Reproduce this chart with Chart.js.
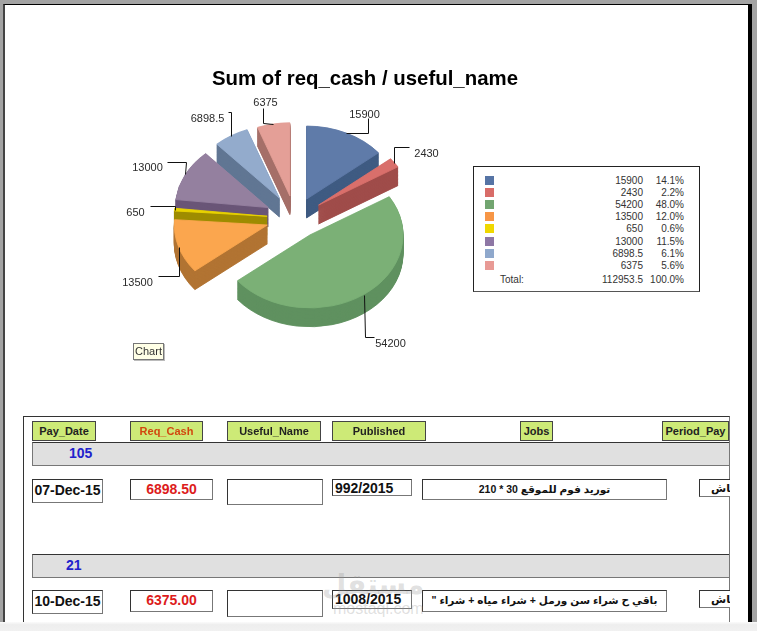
<!DOCTYPE html>
<html>
<head>
<meta charset="utf-8">
<title>Sum of req_cash / useful_name</title>
<script src="https://cdn.jsdelivr.net/npm/chart.js@4"></script>
<style>
  html, body { margin: 0; padding: 0; }
  body { width: 757px; height: 631px; overflow: hidden; position: relative; background: #a3a3a3; font-family: "Liberation Sans", "DejaVu Sans", sans-serif; }
  .abs { position: absolute; box-sizing: border-box; }
  #page { left: 3px; top: 4px; width: 749px; height: 618px; background: #fff; border-top: 1px solid #000; border-left: 2px solid #444; border-right: 4px solid #000; }
  #band { left: 0; top: 622px; width: 757px; height: 9px; background: linear-gradient(#fbfbfb, #eeeeee 30%, #f1f1f1); }
  #pie { position: absolute; left: 0; top: 0; }
  #tag { left: 133px; top: 343px; width: 31px; height: 17px; background: #ffffe6; border: 1px solid #777; box-shadow: 1px 1px 0 #bbb; font-size: 11px; line-height: 15px; text-align: center; color: #333; }
  #legend { left: 473px; top: 166px; width: 227px; height: 126px; border: 1px solid #222; border-bottom-color: #555; background: #fff; font-size: 10px; color: #333; }
  .swatch { position: absolute; left: 11px; width: 9px; height: 9px; }
  .lval { position: absolute; right: 56px; text-align: right; line-height: 12px; }
  .lpct { position: absolute; right: 15px; text-align: right; line-height: 12px; }
  #outer { left: 23px; top: 416px; width: 707px; height: 206px; border: 1px solid #333; border-right-color: #777; border-bottom: none; overflow: hidden; }
  .head { background: #cdea77; border: 1px solid #444; font-weight: bold; font-size: 11px; line-height: 19px; text-align: center; color: #222; white-space: nowrap; overflow: hidden; }
  .bar { background: #e0e0e0; border: 1px solid #777; border-top-color: #333; font-weight: bold; font-size: 14px; color: #2222cc; line-height: 20px; }
  .cell { background: #fff; border: 1px solid #333; border-right-color: #777; border-bottom-color: #777; font-weight: bold; font-size: 14px; line-height: 19px; color: #111; white-space: nowrap; overflow: hidden; text-align: center; }
  .mark { color: rgba(150,150,150,.3); white-space: nowrap; pointer-events: none; }
</style>
</head>
<body>
<div id="page" class="abs"></div>
<canvas id="pie" width="730" height="400"></canvas>
<div id="tag" class="abs">Chart</div>
<div id="legend" class="abs"></div>
<div id="report"></div>
<div class="abs mark" style="left:322px;top:568px;font-size:28px;font-weight:bold;">مستقل</div>
<div class="abs mark" style="left:333px;top:600px;font-size:16px;">mostaql.com</div>
<div id="band" class="abs"></div>

<script>
/* chart values, top to bottom as in the legend */
const sliceValues = [15900, 2430, 54200, 13500, 650, 13000, 6898.5, 6375];
const slicePercents = ['14.1%', '2.2%', '48.0%', '12.0%', '0.6%', '11.5%', '6.1%', '5.6%'];
const sliceColors = ['#5f7ba9', '#d96f6b', '#7bb076', '#fba64e', '#e8d200', '#94809f', '#93abcc', '#e49f97'];
const wallColors = ['#3f5b82', '#a04c4a', '#5f9160', '#b27433', '#9e8c00', '#6a5577', '#617693', '#a56f68'];
const legendSwatches = ['#5674a5', '#d86c68', '#72a570', '#f79646', '#f0d800', '#8e77a5', '#8fa8cc', '#e89a95'];
const totalLabel = 'Total:';
const totalValue = '112953.5';
const totalPercent = '100.0%';
const chartTitle = 'Sum of req_cash / useful_name';

/* report underneath the chart */
const reportColumns = ['Pay_Date', 'Req_Cash', 'Useful_Name', 'Published', 'Jobs', 'Period_Pay'];
const reportGroups = ['105', '21'];
const payDates = ['07-Dec-15', '10-Dec-15'];
const reqCash = ['6898.50', '6375.00'];
const published = ['992/2015', '1008/2015'];
const jobs = ['توريد فوم للموقع 30 * 210', 'باقي ح شراء سن ورمل + شراء مياه + شراء "'];
const periodPay = ['كاش', 'كاش'];

const squash = 0.785;       // pie is a flattened circle
const wallDepth = 24;       // before squash, about 19px on screen
const drawOrder = [7, 6, 5, 4, 3, 0, 1, 2];   // back slices first
const explode = [27, 29, 26, 29, 28, 30, 30, 29];   // how far each slice is pulled out

// leader line bends and label spot, relative to the slice rim point
const leaders = [
  { bends: [[22, 0], [22, -15]], text: [18, -19] },
  { bends: [[0, -16], [15, -16]], text: [32, -10] },
  { bends: [[1, 42], [10, 42]], text: [26, 48] },
  { bends: [[0, 29], [-21, 29]], text: [-42, 35] },
  { bends: [[0, -4], [-25, -4]], text: [-40, 2] },
  { bends: [[1, -12], [-18, -12]], text: [-38, -7] },
  { bends: [[0, -24], [-3, -24]], text: [-24, -18] },
  { bends: [[-10, -1], [-10, -16]], text: [-8, -22] }
];

/* ---------- pie plugin: flatten, extrude, leader lines ---------- */
const pie3d = {
  id: 'pie3d',
  afterLayout(chart) {
    // title stays centred on the canvas, the pie sits left of the legend
    chart.chartArea.right -= 140;
    chart.chartArea.width -= 140;
  },
  beforeDatasetDraw(chart, args) {
    const ctx = chart.ctx;
    const arcs = args.meta.data;
    const cy = arcs[0].y;
    ctx.save();
    ctx.translate(0, cy);
    ctx.scale(1, squash);
    ctx.translate(0, -cy);
    drawOrder.forEach(i => {
      const arc = arcs[i];
      const opts = arc.options;
      const mid = (arc.startAngle + arc.endAngle) / 2;
      ctx.save();
      ctx.translate(Math.cos(mid) * explode[i], Math.sin(mid) * explode[i]);
      arc.options = Object.assign({}, opts, { backgroundColor: wallColors[i], borderColor: wallColors[i] });
      for (let d = wallDepth; d > 0; d--) {
        ctx.save();
        ctx.translate(0, d);
        arc.draw(ctx);
        ctx.restore();
      }
      arc.options = opts;
      arc.draw(ctx);
      ctx.restore();
    });
    ctx.restore();
    return false;
  },
  afterDatasetsDraw(chart) {
    const ctx = chart.ctx;
    ctx.save();
    ctx.strokeStyle = '#111';
    ctx.lineWidth = 1;
    ctx.fillStyle = '#2a2a2a';
    ctx.font = '11px "Liberation Sans", sans-serif';
    ctx.textAlign = 'center';
    ctx.textBaseline = 'middle';
    chart.getDatasetMeta(0).data.forEach((arc, i) => {
      const mid = (arc.startAngle + arc.endAngle) / 2;
      const reach = arc.outerRadius + explode[i];
      const ax = Math.round(arc.x + Math.cos(mid) * reach) + 0.5;
      const ay = Math.round(arc.y + Math.sin(mid) * reach * squash) + 0.5;
      ctx.beginPath();
      ctx.moveTo(ax, ay);
      leaders[i].bends.forEach(b => ctx.lineTo(ax + b[0], ay + b[1]));
      ctx.stroke();
      ctx.fillText(String(sliceValues[i]), ax + leaders[i].text[0], ay + leaders[i].text[1]);
    });
    ctx.restore();
  }
};

new Chart(document.getElementById('pie').getContext('2d'), {
  type: 'pie',
  data: {
    labels: sliceValues.map(v => String(v)),
    datasets: [{
      data: sliceValues,
      backgroundColor: sliceColors,
      borderColor: sliceColors,
      borderWidth: 1,
      radius: 93
    }]
  },
  options: {
    responsive: false,
    animation: false,
    layout: { padding: { bottom: 64 } },
    plugins: {
      legend: { display: false },
      tooltip: { enabled: false },
      title: {
        display: true,
        text: chartTitle,
        color: '#000',
        font: { size: 20.4, weight: 'bold', family: '"Liberation Sans", sans-serif' },
        padding: { top: 67, bottom: 9 }
      }
    }
  },
  plugins: [pie3d]
});

/* ---------- legend box ---------- */
const legendEl = document.getElementById('legend');
const rowTops = [9, 21, 33, 45, 57, 70, 82, 94];
let legendHtml = '';
sliceValues.forEach((v, i) => {
  legendHtml += `<div class="swatch" style="top:${rowTops[i]}px;background:${legendSwatches[i]}"></div>`;
  legendHtml += `<div class="lval" style="top:${rowTops[i] - 1}px">${v}</div>`;
  legendHtml += `<div class="lpct" style="top:${rowTops[i] - 1}px">${slicePercents[i]}</div>`;
});
legendHtml += `<div class="lval" style="left:26px;right:auto;top:107px">${totalLabel}</div>`;
legendHtml += `<div class="lval" style="top:107px">${totalValue}</div>`;
legendHtml += `<div class="lpct" style="top:107px">${totalPercent}</div>`;
legendEl.innerHTML = legendHtml;

/* ---------- report boxes ---------- */
const reportEl = document.getElementById('report');
function addBox(cls, x, y, w, h, text, style) {
  const el = document.createElement('div');
  el.className = 'abs ' + cls;
  el.style.cssText = `left:${x}px;top:${y}px;width:${w}px;height:${h}px;${style || ''}`;
  el.textContent = text;
  reportEl.appendChild(el);
  return el;
}

const outer = document.createElement('div');
outer.id = 'outer';
outer.className = 'abs';
reportEl.appendChild(outer);

const headBoxes = [[32, 64], [130, 73], [227, 94], [332, 94], [520, 33], [662, 67]];
reportColumns.forEach((name, i) => {
  const st = name === 'Req_Cash' ? 'color:#d2470f;' : '';
  addBox('head', headBoxes[i][0], 421, headBoxes[i][1], 20, name, st);
});

const groupTops = [442, 554];
const groupLeft = [68, 65];
reportGroups.forEach((g, i) => {
  const b = addBox('bar', 32, groupTops[i], 697, 24, '', 'border-right:none;');
  const t = document.createElement('span');
  t.style.cssText = `position:absolute;left:${groupLeft[i] - 32}px;top:0;`;
  t.textContent = g;
  b.appendChild(t);
});

const rowTop = [479, 590];
payDates.forEach((d, i) => {
  const y = rowTop[i];
  addBox('cell', 32, y, 71, 24, d, 'line-height:21px;');
  addBox('cell', 130, y, 83, 21 + i, reqCash[i], 'color:#dd1c1c;');
  addBox('cell', 227, y, 96, 26 + i, '');
  addBox('cell', 332, y, 80, 17 + i * 2, published[i], 'line-height:16px;text-align:left;padding-left:2px;');
  addBox('cell', 422, y, 245, 21 + i, jobs[i], 'font-size:10.5px;direction:rtl;');
  addBox('cell', 699, y, 31, 18, periodPay[i], 'font-size:11px;line-height:16px;text-align:left;padding-left:11px;border-right:none;');
});
</script>
</body>
</html>
